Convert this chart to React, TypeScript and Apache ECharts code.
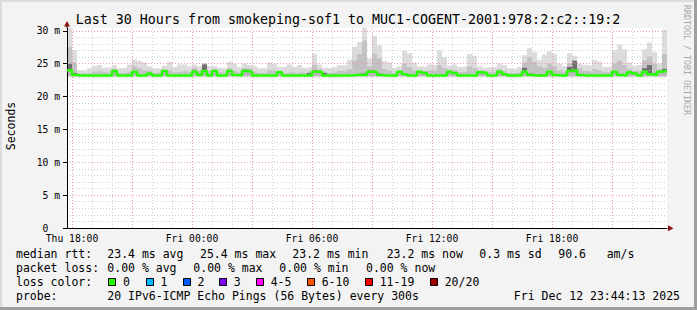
import React, { useEffect, useRef } from 'react';
import * as echarts from 'echarts';

const W = 697;
const H = 310;
const MONO = '"DejaVu Sans Mono", monospace';

// ---------- texts ----------
const TITLE = 'Last 30 Hours from smokeping-sof1 to MUC1-COGENT-2001:978:2:c2::19:2';
const Y_NAME = 'Seconds';
const WATERMARK = 'RRDTOOL / TOBI OETIKER';

// ---------- axes ----------
const START_HOUR = 17.75; // Thu 17:45 (hours since Thu 00:00)
const END_HOUR = 47.75; // Fri 23:45
const STEP_HOURS = 0.25; // 15 minute buckets
const Y_MAX = 30.44;
const X_TICK_HOURS = [18, 24, 30, 36, 42];
const X_TICK_LABELS = ['Thu 18:00', 'Fri 00:00', 'Fri 06:00', 'Fri 12:00', 'Fri 18:00'];
const X_HOUR_LINES = [19, 20, 22, 23, 25, 26, 28, 29, 31, 32, 34, 35, 37, 38, 40, 41, 43, 44, 46, 47];
const X_3HOUR_LINES = [18, 21, 24, 27, 30, 33, 36, 39, 42, 45];

// ---------- data (ms) ----------
const FASTEST_PING = 23.05;
const MEDIAN = [
  24.0, 23.3, 23.2, 23.2, 23.2, 23.2, 23.2, 23.2, 23.2, 23.9,
  23.2, 23.2, 23.2, 23.8, 23.2, 23.2, 23.5, 23.2, 23.2, 23.9,
  23.2, 23.2, 23.2, 23.2, 23.2, 23.8, 23.3, 23.9, 23.2, 23.9,
  23.2, 23.2, 23.9, 23.3, 23.2, 23.9, 23.8, 23.2, 23.2, 23.2,
  23.2, 23.2, 23.7, 23.2, 23.2, 23.2, 23.2, 23.2, 23.2, 23.8,
  23.8, 23.2, 23.2, 23.2, 23.2, 23.2, 23.2, 23.3, 23.3, 23.3,
  23.8, 23.8, 23.3, 23.2, 23.2, 23.2, 23.8, 23.4, 23.2, 23.2,
  23.8, 23.6, 23.2, 23.2, 23.2, 23.2, 23.8, 23.6, 23.2, 23.2,
  23.2, 23.2, 23.7, 23.6, 23.2, 23.2, 23.8, 23.4, 23.2, 23.2,
  23.2, 23.8, 23.3, 23.2, 23.2, 23.2, 23.8, 23.3, 23.2, 23.2,
  23.9, 24.0, 23.3, 23.2, 23.2, 23.2, 23.2, 23.2, 23.2, 23.8,
  23.3, 23.2, 23.7, 23.5, 23.2, 23.8, 23.4, 23.3, 23.8, 23.9,
];
const SMOKE_DARK = [
  25.0, 23.6, 23.2, 23.2, 23.2, 23.2, 23.2, 23.2, 23.2, 23.9,
  23.2, 23.2, 23.2, 23.8, 23.2, 23.2, 23.5, 23.2, 23.2, 23.9,
  23.2, 23.2, 23.2, 23.2, 23.2, 24.0, 23.5, 24.9, 23.4, 23.9,
  23.2, 23.2, 23.9, 23.3, 23.2, 24.1, 24.0, 23.2, 23.2, 23.2,
  23.2, 23.2, 23.7, 23.2, 23.2, 23.2, 23.2, 23.2, 23.6, 24.0,
  23.9, 23.6, 23.2, 23.2, 23.2, 23.2, 23.2, 23.4, 23.5, 23.6,
  24.0, 23.9, 23.5, 23.3, 23.2, 23.2, 23.8, 23.4, 23.3, 23.2,
  23.8, 23.6, 23.2, 23.2, 23.3, 23.3, 23.8, 23.6, 23.2, 23.2,
  23.3, 23.2, 23.7, 23.6, 23.2, 23.2, 23.8, 23.4, 23.2, 23.2,
  23.2, 24.4, 23.5, 23.4, 23.3, 23.2, 23.8, 23.3, 23.2, 23.2,
  24.5, 25.4, 23.4, 23.2, 23.2, 23.2, 23.2, 23.2, 23.2, 23.8,
  23.4, 23.3, 23.7, 23.5, 23.2, 24.3, 24.8, 23.6, 23.8, 24.2,
];
const SMOKE_MID = [
  27.5, 25.2, 23.5, 23.5, 23.6, 23.8, 23.9, 23.7, 23.6, 24.2,
  23.6, 23.6, 23.8, 24.6, 24.3, 24.0, 23.9, 23.6, 23.7, 24.1,
  24.0, 23.7, 23.8, 23.9, 23.7, 24.4, 24.0, 25.0, 23.9, 24.2,
  23.7, 23.6, 24.3, 23.9, 23.7, 24.3, 24.2, 23.8, 23.6, 23.6,
  24.0, 23.9, 24.0, 23.6, 23.7, 23.6, 23.7, 23.6, 23.8, 24.8,
  24.2, 23.8, 23.6, 23.7, 23.9, 23.8, 24.2, 25.5, 26.5, 28.5,
  24.6, 26.5, 25.8, 24.2, 23.9, 23.6, 24.0, 25.0, 24.5, 24.0,
  24.1, 23.9, 24.0, 23.9, 24.8, 24.3, 24.1, 24.0, 23.7, 23.8,
  24.6, 24.3, 24.0, 23.9, 23.7, 23.7, 24.2, 23.9, 23.6, 23.6,
  23.7, 25.2, 26.0, 25.3, 24.6, 24.4, 25.0, 24.6, 24.0, 23.8,
  25.0, 25.6, 24.3, 23.9, 23.8, 24.2, 24.0, 23.7, 23.8, 25.0,
  25.4, 24.8, 24.2, 23.9, 23.8, 25.5, 26.1, 25.0, 24.2, 26.5,
];
const SMOKE_MAX = [
  30.44, 27.0, 24.0, 23.9, 24.3, 24.6, 24.8, 24.4, 24.5, 24.8,
  24.3, 24.4, 24.9, 25.6, 25.4, 25.2, 24.6, 24.3, 24.4, 24.7,
  25.3, 24.5, 24.9, 24.9, 24.6, 24.9, 24.6, 25.1, 24.6, 24.7,
  24.4, 24.3, 25.3, 25.0, 24.5, 25.0, 24.8, 24.6, 24.3, 24.4,
  25.2, 25.0, 24.5, 24.6, 24.9, 24.5, 24.8, 24.4, 24.5, 26.5,
  24.9, 24.4, 24.3, 24.5, 24.8, 24.8, 25.6, 27.6, 28.3, 30.44,
  25.8, 29.2, 27.8, 25.4, 25.2, 24.4, 24.6, 27.0, 26.6, 25.2,
  24.6, 24.5, 24.9, 24.8, 27.0, 26.0, 24.7, 24.9, 24.5, 24.6,
  26.5, 26.2, 24.6, 24.4, 24.5, 24.5, 25.0, 24.8, 24.3, 24.2,
  24.5, 26.3, 27.4, 26.8, 25.6, 26.4, 26.9, 26.5, 25.0, 24.6,
  26.6, 26.2, 25.0, 24.8, 24.7, 25.6, 25.3, 24.5, 24.6, 27.0,
  27.9, 27.2, 25.2, 24.6, 24.8, 27.2, 28.2, 26.8, 25.0, 30.2,
];

// ---------- legend ----------
const RTT_LABEL = 'median rtt:';
const RTT_ITEMS = ['23.4 ms avg', '25.4 ms max', '23.2 ms min', '23.2 ms now', '0.3 ms sd', '90.6', 'am/s'];
const LOSS_LABEL = 'packet loss:';
const LOSS_ITEMS = ['0.00 % avg', '0.00 % max', '0.00 % min', '0.00 % now'];
const COLOR_LABEL = 'loss color:';
const LOSS_COLOR_LABELS = ['0', '1', '2', '3', '4-5', '6-10', '11-19', '20/20'];
const LOSS_COLORS = ['#26ff00', '#00b8ff', '#0059ff', '#7e00ff', '#ff00ff', '#ff5500', '#ff0000', '#a10000'];
const PROBE_LABEL = 'probe:';
const PROBE_TEXT = '20 IPv6-ICMP Echo Pings (56 Bytes) every 300s';
const TIMESTAMP = 'Fri Dec 12 23:44:13 2025';

// ---------- layout ----------
const GRID = { left: 67, top: 28, width: 600, height: 200 };
const ROW_Y = [254.3, 268.3, 282.3, 295.7];
const LEGEND_X0 = 16;
const RTT_X = [107.3, 200, 292.3, 386.7, 479.3, 558.3, 606.7];
const LOSS_X = [107.3, 193.3, 279.3, 366];
const BOX_X = [108.3, 145.7, 182.7, 219, 256, 307, 365, 430];
const LEG_FONT = 11.5;
const GRID_GREY = '#d0d0d0';
const GRID_RED = '#e6a0a0';

function stepSeries(values: number[]) {
  const pts = values.map((v, i) => [START_HOUR + i * STEP_HOURS, v]);
  pts.push([END_HOUR, values[values.length - 1]]);
  return pts;
}

function buildOption() {
  const base = MEDIAN.map(() => FASTEST_PING);

  // painter's order: each area fills from the axis up to its level, later ones cover earlier ones
  const area = (name: string, vals: number[], color: string) => ({
    name,
    type: 'line',
    step: 'end',
    symbol: 'none',
    silent: true,
    z: 2,
    lineStyle: { width: 0, opacity: 0 },
    areaStyle: { color, opacity: 1 },
    data: stepSeries(vals),
  });

  const textStyle = (text: string, x: number, y: number, extra: any = {}) => ({
    type: 'text',
    x,
    y,
    silent: true,
    style: {
      text,
      fontFamily: MONO,
      fontSize: LEG_FONT,
      fill: '#000',
      verticalAlign: 'middle',
      align: 'left',
      ...extra,
    },
  });

  const graphics: any[] = [];
  // frame
  graphics.push({ type: 'rect', shape: { x: 0, y: 0, width: W, height: 2 }, style: { fill: '#dcdcdc' }, silent: true });
  graphics.push({ type: 'rect', shape: { x: 0, y: 0, width: 2, height: H }, style: { fill: '#dcdcdc' }, silent: true });
  graphics.push({ type: 'rect', shape: { x: W - 3, y: 0, width: 3, height: H }, style: { fill: '#9e9e9e' }, silent: true });
  graphics.push({ type: 'rect', shape: { x: 0, y: H - 3, width: W, height: 3 }, style: { fill: '#9e9e9e' }, silent: true });
  // title
  graphics.push(textStyle(TITLE, 348, 19, { fontSize: 13.3, align: 'center' }));
  // y name
  graphics.push({
    type: 'text', x: 11, y: 126, rotation: Math.PI / 2, silent: true,
    style: { text: Y_NAME, fontFamily: MONO, fontSize: LEG_FONT, fill: '#000', align: 'center', verticalAlign: 'middle' },
  });
  // watermark
  graphics.push({
    type: 'text', x: 686.5, y: 60, rotation: -Math.PI / 2, silent: true,
    style: { text: WATERMARK, fontFamily: MONO, fontSize: 8.3, fill: '#a8a8a8', align: 'center', verticalAlign: 'middle' },
  });
  // axis extensions and arrows
  graphics.push({ type: 'line', shape: { x1: 67, y1: 25, x2: 67, y2: 28 }, style: { stroke: '#000', lineWidth: 1 }, silent: true });
  graphics.push({ type: 'line', shape: { x1: 63, y1: 228.5, x2: 67, y2: 228.5 }, style: { stroke: '#000', lineWidth: 1 }, silent: true });
  graphics.push({ type: 'polygon', shape: { points: [[67, 21], [64, 26.5], [70, 26.5]] }, style: { fill: '#8b1414' }, silent: true });
  graphics.push({ type: 'polygon', shape: { points: [[673.5, 228.3], [668, 225.3], [668, 231.3]] }, style: { fill: '#8b1414' }, silent: true });

  // legend row 1
  graphics.push(textStyle(RTT_LABEL, LEGEND_X0, ROW_Y[0]));
  RTT_ITEMS.forEach((t, i) => graphics.push(textStyle(t, RTT_X[i], ROW_Y[0])));
  // row 2
  graphics.push(textStyle(LOSS_LABEL, LEGEND_X0, ROW_Y[1]));
  LOSS_ITEMS.forEach((t, i) => graphics.push(textStyle(t, LOSS_X[i], ROW_Y[1])));
  // row 3
  graphics.push(textStyle(COLOR_LABEL, LEGEND_X0, ROW_Y[2]));
  LOSS_COLOR_LABELS.forEach((t, i) => {
    graphics.push({
      type: 'rect', silent: true,
      shape: { x: Math.round(BOX_X[i]) + 0.5, y: Math.round(ROW_Y[2]) - 4 + 0.5, width: 7, height: 7 },
      style: { fill: LOSS_COLORS[i], stroke: '#000', lineWidth: 1 },
    });
    graphics.push(textStyle(t, BOX_X[i] + 14.7, ROW_Y[2]));
  });
  // row 4
  graphics.push(textStyle(PROBE_LABEL, LEGEND_X0, ROW_Y[3]));
  graphics.push(textStyle(PROBE_TEXT, 107.3, ROW_Y[3]));
  graphics.push(textStyle(TIMESTAMP, 680, ROW_Y[3], { align: 'right' }));

  const axisFont = { fontFamily: MONO, fontSize: 9.7, color: '#000' };

  return {
    animation: false,
    backgroundColor: '#f3f3f3',
    grid: {
      left: GRID.left, top: GRID.top, width: GRID.width, height: GRID.height,
      show: true, backgroundColor: '#ffffff', borderWidth: 0,
    },
    xAxis: [
      {
        type: 'value',
        min: START_HOUR,
        max: END_HOUR,
        z: 4,
        axisLine: { show: true, onZero: false, lineStyle: { color: '#000', width: 1 } },
        axisTick: { show: false },
        splitLine: { show: false },
        axisLabel: {
          ...axisFont,
          margin: 5,
          lineHeight: 10,
          customValues: X_TICK_HOURS,
          formatter: (v: number) => {
            const k = X_TICK_HOURS.indexOf(Math.round(v * 100) / 100);
            return k >= 0 ? X_TICK_LABELS[k] : '';
          },
        },
      },
    ],
    yAxis: [
      {
        type: 'value', position: 'left', min: 0, max: Y_MAX, interval: 1, z: 3,
        axisLine: { show: false }, axisTick: { show: false }, axisLabel: { show: false },
        splitLine: { show: true, showMinLine: false, showMaxLine: false, lineStyle: { color: GRID_GREY, type: [1, 2], width: 1 } },
      },
      {
        type: 'value', position: 'left', min: 0, max: Y_MAX, interval: 5, z: 4,
        axisLine: { show: true, onZero: false, lineStyle: { color: '#000', width: 1 } },
        axisTick: { show: true, length: 4, lineStyle: { color: '#000' } },
        axisLabel: {
          ...axisFont,
          margin: 7,
          lineHeight: 8,
          showMaxLabel: false,
          verticalAlign: 'middle',
          formatter: (v: number) => (v === 0 ? '0\u00a0\u00a0' : v > 30 ? '' : `${v} m`),
        },
        splitLine: { show: true, showMinLine: false, showMaxLine: false, lineStyle: { color: GRID_RED, type: [1, 2], width: 1 } },
      },
    ],
    series: [
      area('light', SMOKE_MAX, '#dcdcdc'),
      area('mid', SMOKE_MID, '#c2c2c2'),
      area('dark', SMOKE_DARK, '#707070'),
      area('under', MEDIAN, '#b8b8b8'),
      area('base', base, '#ffffff'),
      {
        name: 'grid',
        type: 'line',
        data: [],
        z: 3,
        silent: true,
        markLine: {
          silent: true,
          symbol: ['none', 'none'],
          label: { show: false },
          emphasis: { disabled: true },
          lineStyle: { color: GRID_GREY, type: [1, 2], width: 1 },
          data: [
            ...X_HOUR_LINES.map((h) => ({ xAxis: h })),
            ...X_3HOUR_LINES.map((h) => ({ xAxis: h, lineStyle: { color: GRID_RED, type: [1, 2], width: 1 } })),
          ],
        },
      },
      {
        name: 'median',
        type: 'line',
        step: 'end',
        symbol: 'none',
        silent: true,
        z: 5,
        lineStyle: { color: '#26ff00', width: 2.5 },
        data: stepSeries(MEDIAN),
      },
    ],
    graphic: graphics,
  };
}

export default function App() {
  const ref = useRef<HTMLDivElement>(null);
  useEffect(() => {
    if (!ref.current) return;
    const chart = echarts.init(ref.current, undefined, { renderer: 'svg', width: W, height: H });
    chart.setOption(buildOption() as any);
    return () => chart.dispose();
  }, []);
  return <div ref={ref} style={{ position: 'fixed', left: 0, top: 0, width: W, height: H }} />;
}
